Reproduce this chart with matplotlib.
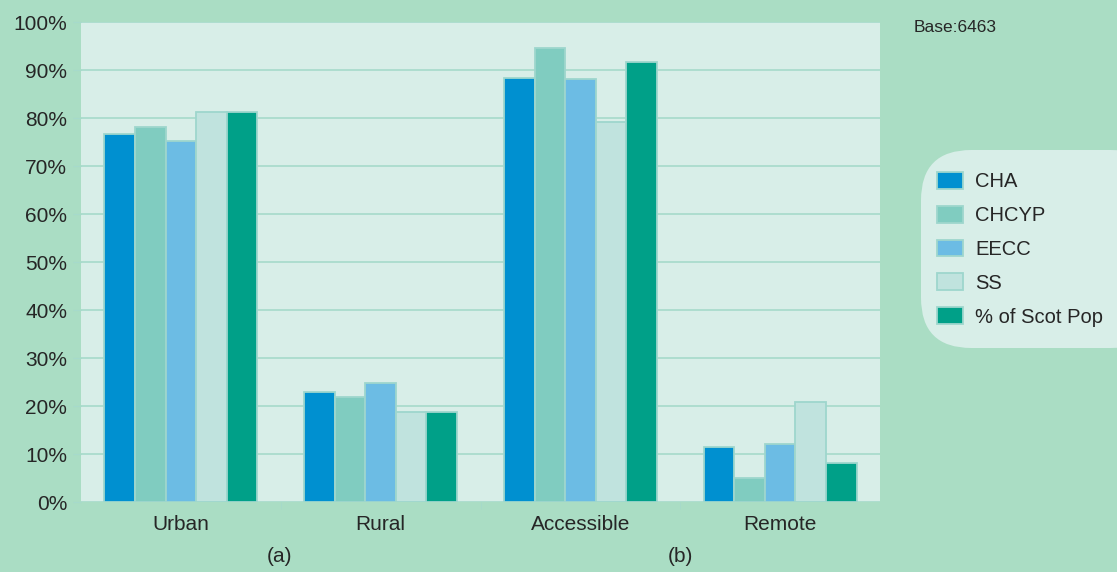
import matplotlib
matplotlib.use("Agg")
import matplotlib.pyplot as plt
import numpy as np
from matplotlib.patches import FancyBboxPatch, Patch

categories = ["Urban", "Rural", "Accessible", "Remote"]
series_names = ["CHA", "CHCYP", "EECC", "SS", "% of Scot Pop"]
cha = [76.7, 22.9, 88.4, 11.4]
chcyp = [78.1, 21.9, 94.5, 5.0]
eecc = [75.2, 24.8, 88.1, 12.0]
ss = [81.2, 18.8, 79.2, 20.8]
scot_pop = [81.2, 18.8, 91.7, 8.1]
group_labels = ["(a)", "(b)"]
yticks = [0, 10, 20, 30, 40, 50, 60, 70, 80, 90, 100]
base_text = "Base:6463"

colors = ["#0090D0", "#80CCC0", "#6CBCE4", "#C0E3DE", "#00A088"]
outer_bg = "#AADDC4"
plot_bg = "#D8EEE8"
grid_c = "#A6DACB"
edge_c = "#9ED6CD"
text_c = "#262626"

plt.rcParams['font.family'] = ['Liberation Sans', 'DejaVu Sans']
FS = 15

fig = plt.figure(figsize=(11.17, 5.72), dpi=100, facecolor=outer_bg)
ax = fig.add_axes([81/1117, 1-502/572, (880-81)/1117, (502-22)/572])
ax.set_facecolor(plot_bg)

data = [cha, chcyp, eecc, ss, scot_pop]
x = np.arange(len(categories))
w = 0.153
for i, (vals, c, name) in enumerate(zip(data, colors, series_names)):
    ax.bar(x + (i - 2) * w, vals, width=w, color=c, edgecolor=edge_c, linewidth=1.3,
           label=name, zorder=3)

ax.set_xlim(-0.5, len(categories) - 0.5)
ax.set_ylim(0, 100)
ax.set_yticks(yticks)
ax.set_yticklabels([f"{t}%" for t in yticks], fontsize=FS, color=text_c)
ax.set_xticks(x)
ax.set_xticklabels(categories, fontsize=FS, color=text_c)
ax.tick_params(axis='x', length=0, pad=9)
ax.set_xticks([0.5, 1.5, 2.5], minor=True)
ax.tick_params(axis='x', which='minor', length=5, color=grid_c, direction='out')
ax.tick_params(axis='y', length=6, color=grid_c, pad=4)
ax.yaxis.grid(True, color=grid_c, linewidth=1.2, zorder=0)
ax.set_axisbelow(True)
for s in ax.spines.values():
    s.set_visible(False)

fig.text(280/1117, 1-557/572, group_labels[0], ha='center', va='center', fontsize=FS, color=text_c)
fig.text(680/1117, 1-557/572, group_labels[1], ha='center', va='center', fontsize=FS, color=text_c)
fig.text(914/1117, 1-28/572, base_text, ha='left', va='center', fontsize=12.5, color=text_c)

# Legend box
box = FancyBboxPatch((921/1117, 1-348/572), 240/1117, 198/572,
                     boxstyle="round,pad=0,rounding_size=0.045",
                     transform=fig.transFigure, facecolor=plot_bg, edgecolor='none',
                     mutation_aspect=1117/572)
fig.patches.append(box)
handles = [Patch(facecolor=c, edgecolor=edge_c, linewidth=1.3) for c in colors]
LFS = 14.5
leg = fig.legend(handles, series_names, loc='upper left',
                 bbox_to_anchor=(937/1117, 1-172/572), frameon=False,
                 fontsize=LFS, handlelength=1.3, handleheight=0.9,
                 handletextpad=0.6, labelspacing=0.72, borderpad=0, borderaxespad=0)
for t in leg.get_texts():
    t.set_color(text_c)

fig.savefig("out.png", dpi=100, facecolor=outer_bg)
